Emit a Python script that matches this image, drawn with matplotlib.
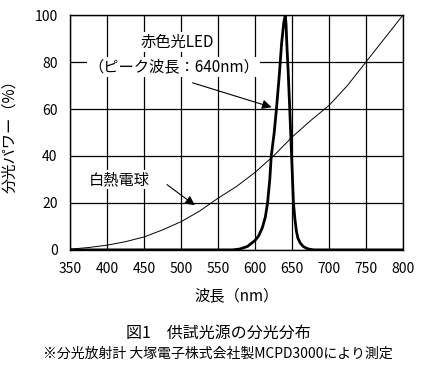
import numpy as np
import matplotlib.pyplot as plt

plt.rcParams['font.family'] = ['Noto Sans CJK JP', 'DejaVu Sans']

# 波長 (nm) と分光パワー (%)
bulb_wl = [350, 375, 400, 425, 450, 475, 500, 525, 550, 575, 600, 625, 650,
           675, 700, 725, 750, 775, 800]
bulb_val = [0.3, 1, 2, 3.5, 5.5, 8.5, 12, 16.5, 22, 27, 33, 40, 48,
            55, 61.5, 70, 80, 90, 100]

led_wl = [350, 570, 580, 590, 600, 605, 610, 614, 617, 620, 622, 626, 629,
          633, 636, 639, 641, 642, 643, 645, 647, 649.5, 651, 652, 654, 656,
          658, 661, 665, 670, 675, 680, 800]
led_val = [0, 0, 0.4, 1.5, 4, 6, 9.5, 14, 20, 30, 40, 50, 60,
           75, 88, 97, 100, 96, 88, 75, 60, 40, 28, 20, 13, 8,
           5, 3, 1.5, 0.6, 0.2, 0, 0]

xticks = [350, 400, 450, 500, 550, 600, 650, 700, 750, 800]
yticks = [0, 20, 40, 60, 80, 100]

fig = plt.figure(figsize=(4.3, 3.68), dpi=100)
ax = fig.add_axes([0.163, 0.321, 0.774, 0.638])

ax.plot(bulb_wl, bulb_val, color='black', linewidth=0.7, zorder=3)
ax.plot(led_wl, led_val, color='black', linewidth=2.0, zorder=4)

ax.set_xlim(350, 800)
ax.set_ylim(0, 100)
ax.set_xticks(xticks)
ax.set_yticks(yticks)
ax.grid(True, color='black', linewidth=0.9)
ax.set_axisbelow(True)
ax.tick_params(length=0, labelsize=10, pad=9)
for s in ax.spines.values():
    s.set_linewidth(1.0)

box = dict(facecolor='white', edgecolor='none', pad=1)
ax.text(495, 88.5, '赤色光LED', fontsize=11, ha='center', va='center', bbox=box, zorder=5)
ax.text(490, 78, '（ピーク波長：640nm）', fontsize=11, ha='center', va='center', bbox=box, zorder=5)
ax.annotate('', xy=(626, 60.4), xytext=(512, 71.5),
            arrowprops=dict(arrowstyle='-|>', color='black', lw=0.8,
                            mutation_scale=14), zorder=5)

ax.text(416, 30, '白熱電球', fontsize=11, ha='center', va='center', bbox=box, zorder=5)
ax.annotate('', xy=(521.6, 18.3), xytext=(478, 28.5),
            arrowprops=dict(arrowstyle='-|>', color='black', lw=0.8,
                            mutation_scale=14), zorder=5)

ax.set_ylabel('分光パワー（%）', fontsize=11, labelpad=12)
ax.set_xlabel('波長（nm）', fontsize=11, labelpad=8)

fig.text(0.507, 0.095, '図1　供試光源の分光分布', fontsize=11.5, ha='center', va='center')
fig.text(0.507, 0.038, '※分光放射計 大塚電子株式会社製MCPD3000により測定', fontsize=10,
         ha='center', va='center')

plt.savefig('out.png', dpi=100)
